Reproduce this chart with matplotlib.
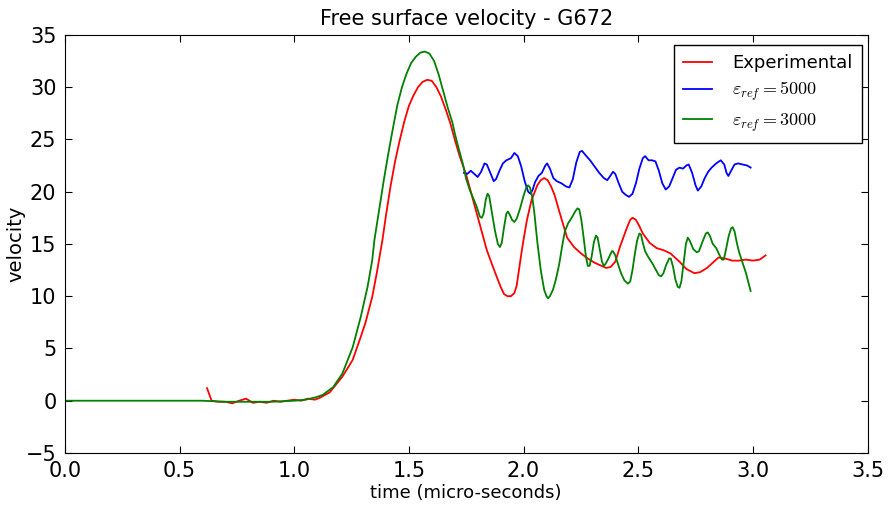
import matplotlib
matplotlib.use("Agg")
import matplotlib.pyplot as plt

# Experimental trace (time in micro-seconds, velocity)
exp_t = [0.62, 0.64, 0.67, 0.70, 0.73, 0.76, 0.79, 0.82, 0.85, 0.88, 0.91, 0.94,
         0.97, 1.00, 1.03, 1.06, 1.09, 1.11, 1.155, 1.21, 1.255, 1.29, 1.31, 1.34,
         1.36, 1.385, 1.40, 1.42, 1.44, 1.46, 1.48, 1.50, 1.52, 1.54, 1.56, 1.58,
         1.60, 1.62, 1.64, 1.66, 1.68, 1.70, 1.72, 1.75, 1.785, 1.82, 1.84, 1.87,
         1.90, 1.915, 1.93, 1.945, 1.96, 1.97, 1.98, 1.99, 2.00, 2.015, 2.035, 2.06,
         2.075, 2.09, 2.105, 2.12, 2.135, 2.16, 2.19, 2.22, 2.25, 2.28, 2.31, 2.34,
         2.36, 2.38, 2.40, 2.42, 2.45, 2.465, 2.475, 2.49, 2.505, 2.52, 2.55, 2.58,
         2.61, 2.64, 2.68, 2.71, 2.745, 2.77, 2.80, 2.83, 2.85, 2.88, 2.91, 2.94,
         2.97, 3.00, 3.03, 3.055]
exp_v = [1.2, 0.0, -0.1, -0.1, -0.25, 0.0, 0.2, -0.2, -0.1, -0.2, 0.0, -0.1,
         0.0, 0.1, 0.0, 0.2, 0.1, 0.26, 0.8, 2.3, 3.9, 6.1, 7.4, 9.9,
         12.2, 15.4, 17.7, 20.5, 22.9, 24.9, 26.7, 28.2, 29.2, 30.0, 30.5, 30.7,
         30.6, 30.0, 29.1, 27.9, 26.6, 25.0, 23.5, 21.6, 18.8, 16.0, 14.4, 12.6,
         10.9, 10.2, 10.0, 10.0, 10.3, 11.0, 12.5, 14.0, 15.4, 17.3, 19.2, 20.6,
         21.1, 21.3, 21.1, 20.5, 19.7, 17.8, 15.6, 14.7, 14.1, 13.6, 13.2, 12.9,
         12.7, 12.8, 13.3, 14.7, 16.5, 17.3, 17.5, 17.3, 16.7, 16.0, 15.1, 14.6,
         14.4, 14.1, 13.3, 12.6, 12.2, 12.3, 12.7, 13.3, 13.7, 13.6, 13.4, 13.4,
         13.5, 13.4, 13.5, 13.9]

# Simulation, eps_ref = 3000 (full trace)
g_t = [0.0, 0.60, 0.70, 0.80, 0.90, 1.00, 1.05, 1.09, 1.124, 1.17, 1.21, 1.255,
       1.29, 1.32, 1.34, 1.35, 1.37, 1.39, 1.41, 1.43, 1.45, 1.47, 1.49, 1.51,
       1.53, 1.55, 1.57, 1.59, 1.61, 1.63, 1.65, 1.67, 1.69, 1.70, 1.715, 1.735,
       1.75, 1.765, 1.78, 1.795, 1.81, 1.818, 1.826, 1.835, 1.843, 1.85, 1.86,
       1.875, 1.888, 1.897, 1.905, 1.915, 1.925, 1.932, 1.94, 1.95, 1.96, 1.97,
       1.985, 2.00, 2.012, 2.02, 2.028, 2.038, 2.048, 2.06, 2.075, 2.09, 2.10,
       2.107, 2.115, 2.128, 2.14, 2.155, 2.17, 2.18, 2.195, 2.21, 2.225, 2.235,
       2.243, 2.252, 2.262, 2.272, 2.28, 2.288, 2.297, 2.307, 2.316, 2.323,
       2.332, 2.342, 2.35, 2.358, 2.37, 2.385, 2.39, 2.40, 2.41, 2.425, 2.44,
       2.455, 2.465, 2.475, 2.485, 2.495, 2.505, 2.512, 2.52, 2.53, 2.545, 2.56,
       2.575, 2.59, 2.60, 2.61, 2.622, 2.635, 2.642, 2.652, 2.662, 2.672, 2.68,
       2.688, 2.698, 2.708, 2.716, 2.725, 2.74, 2.755, 2.765, 2.78, 2.795, 2.803,
       2.812, 2.825, 2.84, 2.855, 2.865, 2.873, 2.882, 2.895, 2.905, 2.912, 2.92,
       2.93, 2.94, 2.955, 2.97, 2.99]
g_v = [0.0, 0.0, -0.1, -0.1, -0.1, 0.0, 0.1, 0.3, 0.55, 1.3, 2.6, 5.1,
       8.0, 10.9, 13.4, 15.4, 18.2, 21.0, 23.6, 26.0, 28.3, 30.0, 31.3, 32.3,
       32.9, 33.3, 33.4, 33.2, 32.5, 31.2, 29.6, 28.0, 26.6, 25.6, 24.3, 22.7,
       21.2, 20.2, 19.4, 18.6, 17.6, 17.5, 17.9, 19.2, 19.8, 19.6, 18.3,
       16.3, 15.0, 14.7, 15.1, 16.6, 17.9, 18.1, 17.8, 17.3, 17.1, 17.4,
       18.4, 19.6, 20.4, 20.6, 20.4, 19.5, 17.8, 15.2, 12.5, 10.6, 10.0,
       9.8, 10.0, 10.6, 11.5, 13.0, 15.0, 16.2, 17.0, 17.5, 18.1, 18.4,
       18.3, 17.3, 15.6, 13.8, 12.9, 12.9, 13.8, 15.2, 15.8, 15.6,
       14.5, 13.3, 12.9, 13.1, 13.6, 14.3, 14.3, 13.9, 13.2, 12.2, 11.5,
       11.2, 11.4, 12.5, 14.0, 15.3, 16.0, 15.9, 15.1, 14.3, 13.7, 13.2,
       12.6, 12.0, 11.9, 12.2, 13.0, 13.6, 13.6, 12.8, 11.6, 10.9, 10.8,
       11.4, 13.2, 15.0, 15.6, 15.3, 14.5, 14.2, 14.3, 15.2, 16.0, 16.1,
       15.8, 15.0, 14.6, 13.9, 13.5, 13.5, 14.4, 15.8, 16.5, 16.6, 16.2,
       15.1, 14.2, 13.2, 12.2, 10.5]

# Simulation, eps_ref = 5000 (follows the 3000 curve up to ~1.74)
b_t = [1.74, 1.755, 1.77, 1.785, 1.80, 1.815, 1.83, 1.84, 1.855, 1.87, 1.88,
       1.895, 1.91, 1.925, 1.945, 1.96, 1.975, 1.99, 2.005, 2.02, 2.03, 2.04,
       2.05, 2.065, 2.08, 2.095, 2.103, 2.115, 2.13, 2.145, 2.165, 2.185, 2.20,
       2.215, 2.23, 2.245, 2.255, 2.27, 2.29, 2.31, 2.33, 2.35, 2.365, 2.375,
       2.39, 2.40, 2.415, 2.43, 2.445, 2.46, 2.475, 2.49, 2.505, 2.52, 2.53,
       2.545, 2.56, 2.575, 2.59, 2.605, 2.62, 2.635, 2.65, 2.665, 2.68, 2.695,
       2.71, 2.72, 2.735, 2.75, 2.76, 2.775, 2.79, 2.805, 2.82, 2.84, 2.86,
       2.875, 2.885, 2.893, 2.905, 2.92, 2.935, 2.955, 2.975, 2.99]
b_v = [21.8, 21.7, 22.0, 21.7, 21.4, 21.9, 22.7, 22.6, 21.8, 21.0, 21.2,
       22.0, 22.7, 23.0, 23.2, 23.7, 23.4, 22.4, 21.0, 20.0, 19.8, 20.2,
       20.9, 21.5, 21.8, 22.5, 22.7, 22.2, 21.3, 21.0, 20.8, 20.5, 20.4,
       21.2, 22.8, 23.8, 23.9, 23.5, 23.0, 22.4, 21.8, 21.3, 21.1, 21.4,
       21.9, 21.7, 20.8, 20.0, 19.7, 19.5, 19.8, 20.8, 22.2, 23.2, 23.4,
       23.0, 23.0, 22.9, 22.0, 20.8, 20.2, 20.5, 21.3, 22.1, 22.3, 22.2,
       22.5, 22.6, 21.8, 20.6, 20.1, 20.5, 21.3, 21.9, 22.3, 22.7, 23.0,
       22.6, 21.8, 21.5, 22.0, 22.6, 22.7, 22.6, 22.5, 22.3]

plt.rcParams["mathtext.fontset"] = "cm"

fig = plt.figure(figsize=(8.88, 5.05), dpi=100)
ax = fig.add_axes([0.073, 0.103, 0.904, 0.828])

ax.plot(exp_t, exp_v, color="red", lw=1.3, label="Experimental")
ax.plot(b_t, b_v, color="blue", lw=1.3, label=r"$\varepsilon_{ref}=5000$")
ax.plot(g_t, g_v, color="green", lw=1.3, label=r"$\varepsilon_{ref}=3000$")

ax.set_xlim(0, 3.5)
ax.set_ylim(-5, 35)
ax.set_xticks([0.0, 0.5, 1.0, 1.5, 2.0, 2.5, 3.0, 3.5])
ax.set_yticks(range(-5, 36, 5))
ax.tick_params(direction="in", top=True, right=True, labelsize=15, length=5, pad=6)

ax.set_title("Free surface velocity - G672", fontsize=15, pad=7)
ax.set_xlabel("time (micro-seconds)", fontsize=13, labelpad=2)
ax.set_ylabel("velocity", fontsize=14, labelpad=0.5)

leg = ax.legend(loc="upper right", bbox_to_anchor=(0.9925, 0.976), borderaxespad=0,
                fontsize=13, fancybox=False, framealpha=1,
                borderpad=0.5, handlelength=1.6, handletextpad=1.1,
                labelspacing=0.45)
leg.get_frame().set_edgecolor("black")

fig.savefig("out.png", dpi=100)
